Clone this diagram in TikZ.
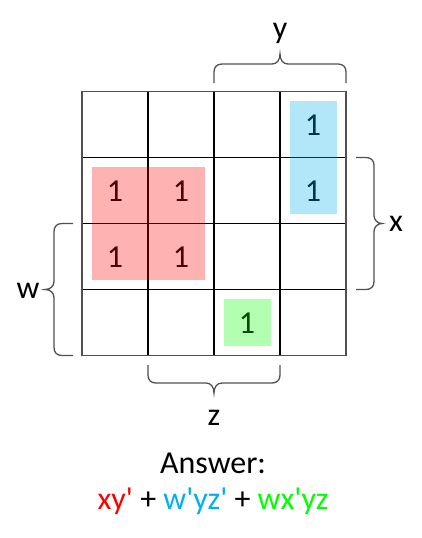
\documentclass[tikz,border=0pt]{standalone}
\usepackage{fontspec}
\setmainfont{Carlito}
\definecolor{gridgray}{HTML}{505050}
\definecolor{kred}{HTML}{FF0000}
\definecolor{kblue}{HTML}{00B0F0}
\definecolor{kgreen}{HTML}{00FF00}
\newcommand{\pr}{\textquotesingle}
\begin{document}
\begin{tikzpicture}[x=1pt,y=-1pt,
  lbl/.style={inner sep=0pt,font=\fontsize{32}{38}\selectfont},
  one/.style={inner sep=0pt,font=\fontsize{32}{38}\selectfont},
  bracestroke/.style={draw=gridgray,line width=1.3pt},
  grp/.style={fill opacity=0.3}]
\useasboundingbox[fill=white] (0,0) rectangle (421,538);
% grid
\foreach \i in {148,214,280} \draw[line width=1.2pt] (\i,91.5) -- (\i,355.5);
\foreach \j in {157.5,223.5,289.5} \draw[line width=1.2pt] (82,\j) -- (346,\j);
\draw[draw=gridgray,line width=1.6pt] (82,91.5) rectangle (346,355.5);
% ones
\node[one] (o1) at (313,125) {1};
\node[one] (o2) at (313,191) {1};
\node[one] (o3) at (115,191) {1};
\node[one] (o4) at (181,191) {1};
\node[one] (o5) at (115,257) {1};
\node[one] (o6) at (181,257) {1};
\node[one] (o7) at (247,323) {1};
% groups
\fill[kred,grp] (92,167.3) rectangle (205,280.3);
\fill[kblue,grp] (290,101) rectangle (337,214.3);
\fill[kgreen,grp] (224,299) rectangle (271,346);
% top brace (y)
\draw[bracestroke] (214,83) -- (214,72) .. controls (214,67) and (217,64) .. (222,64) -- (272,64)
  .. controls (277,64) and (280,60) .. (280,54)
  .. controls (280,60) and (283,64) .. (288,64) -- (338,64)
  .. controls (343,64) and (346,67) .. (346,72) -- (346,83);
\node[lbl] (ly) at (280,33) {y};
% right brace (x)
\draw[bracestroke] (356,157.5) -- (366,157.5) .. controls (371,157.5) and (374,160.5) .. (374,165.5) -- (374,215.5)
  .. controls (374,220.5) and (378,223.5) .. (382,223.5)
  .. controls (378,223.5) and (374,226.5) .. (374,231.5) -- (374,281.5)
  .. controls (374,286.5) and (371,289.5) .. (366,289.5) -- (356,289.5);
\node[lbl] (lx) at (396,224) {x};
% left brace (w)
\draw[bracestroke] (73,223.5) -- (62,223.5) .. controls (57,223.5) and (54,226.5) .. (54,231.5) -- (54,281.5)
  .. controls (54,286.5) and (50,289.5) .. (45,289.5)
  .. controls (50,289.5) and (54,292.5) .. (54,297.5) -- (54,347.5)
  .. controls (54,352.5) and (57,355.5) .. (62,355.5) -- (73,355.5);
\node[lbl] (lw) at (28,291) {w};
% bottom brace (z)
\draw[bracestroke] (148,365) -- (148,375) .. controls (148,380) and (151,383) .. (156,383) -- (206,383)
  .. controls (211,383) and (214,387) .. (214,393)
  .. controls (214,387) and (217,383) .. (222,383) -- (272,383)
  .. controls (277,383) and (280,380) .. (280,375) -- (280,365);
\node[lbl] (lz) at (214,418) {z};
% answer
\node[lbl] (ans) at (213,463) {Answer:};
\node[lbl] (expr) at (213,501) {\textcolor{kred}{xy\pr} + \textcolor{kblue}{w\pr yz\pr} + \textcolor{kgreen}{wx\pr yz}};
\end{tikzpicture}
\end{document}
